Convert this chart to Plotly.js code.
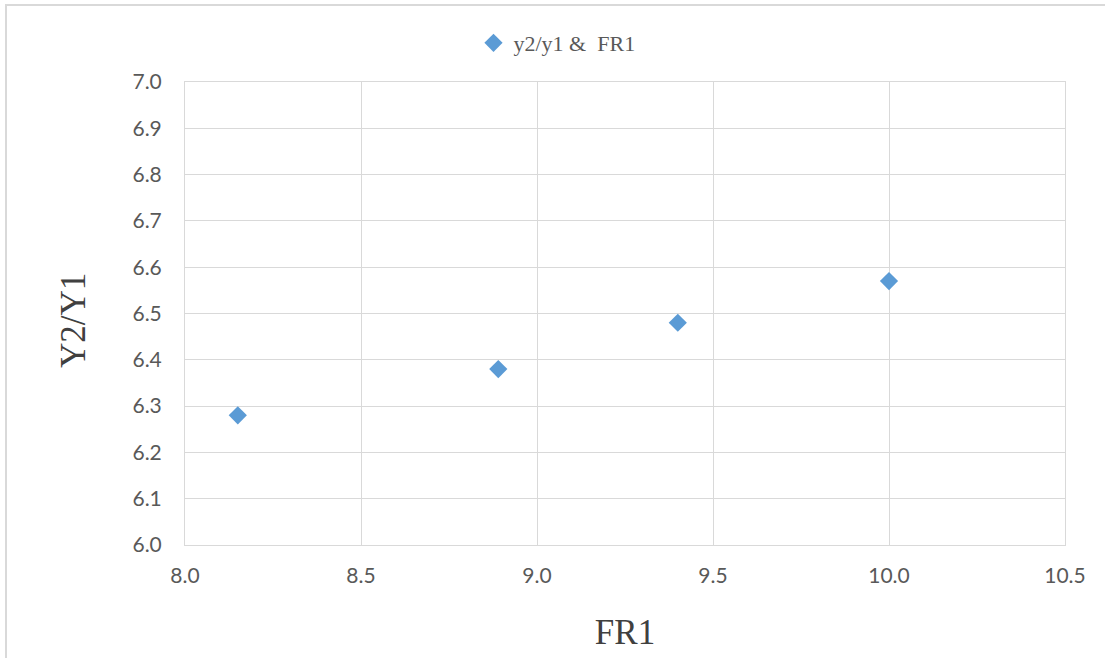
<!DOCTYPE html>
<html>
<head>
<meta charset="utf-8">
<script src="https://cdn.plot.ly/plotly-3.0.1.min.js"></script>
<style>
html,body{margin:0;padding:0;background:#fff;}
#chart{width:1105px;height:658px;}
</style>
</head>
<body>
<div id="chart"></div>
<script>
const seriesName = 'y2/y1 &amp;&nbsp;&nbsp;FR1';
const fr1 = [8.15, 8.89, 9.40, 10.0];
const ratio = [6.28, 6.38, 6.48, 6.57];
const xTitle = 'FR1';
const yTitle = 'Y2/Y1';

const W = 1105, H = 658, L = 185, R = 40, T = 82, B = 113;
const pw = W - L - R, ph = H - T - B;
const px = v => (v - L) / pw;
const py = v => (H - B - v) / ph;

const trace = {
  x: fr1, y: ratio, type: 'scatter', mode: 'markers', name: seriesName,
  marker: {symbol: 'diamond', size: 14, color: '#5B9BD5'}
};

const layout = {
  width: W, height: H,
  margin: {l: L, r: R, t: T, b: B, pad: 0},
  paper_bgcolor: '#ffffff', plot_bgcolor: '#ffffff',
  showlegend: true,
  legend: {orientation: 'h', x: px(557), y: py(43), xanchor: 'center', yanchor: 'middle',
    font: {family: 'Liberation Serif, serif', size: 22, color: '#595959'},
    itemwidth: 30, tracegroupgap: 0, bgcolor: 'rgba(0,0,0,0)'},
  xaxis: {
    range: [8, 10.5], dtick: 0.5, tick0: 8, tickformat: '.1f',
    showgrid: true, gridcolor: '#d9d9d9', gridwidth: 1,
    showline: true, linecolor: '#d9d9d9', linewidth: 1, mirror: true,
    zeroline: false, ticks: '', ticklabelstandoff: 12,
    tickfont: {family: 'Lato, sans-serif', size: 21, color: '#595959'},
    title: {text: xTitle, standoff: 33, font: {family: 'Liberation Serif, serif', size: 35, color: '#404040'}},
    automargin: false, fixedrange: true
  },
  yaxis: {
    range: [6, 7], dtick: 0.1, tick0: 6, tickformat: '.1f',
    showgrid: true, gridcolor: '#d9d9d9', gridwidth: 1,
    showline: true, linecolor: '#d9d9d9', linewidth: 1, mirror: true,
    zeroline: false, ticks: '', ticklabelstandoff: 18,
    tickfont: {family: 'Lato, sans-serif', size: 21, color: '#595959'},
    automargin: false, fixedrange: true
  },
  annotations: [
    {text: yTitle, xref: 'paper', yref: 'paper', x: px(73), y: py(321), xanchor: 'center', yanchor: 'middle',
     textangle: -90, showarrow: false, font: {family: 'Liberation Serif, serif', size: 35, color: '#404040'}}
  ],
  shapes: [
    {type: 'line', xref: 'paper', yref: 'paper', x0: px(6), x1: px(6), y0: py(4), y1: py(H + 5), line: {color: '#d9d9d9', width: 2}},
    {type: 'line', xref: 'paper', yref: 'paper', x0: px(5), x1: px(W + 5), y0: py(5), y1: py(5), line: {color: '#d9d9d9', width: 2}}
  ]
};

Plotly.newPlot('chart', [trace], layout, {displayModeBar: false, staticPlot: true});
</script>
</body>
</html>
